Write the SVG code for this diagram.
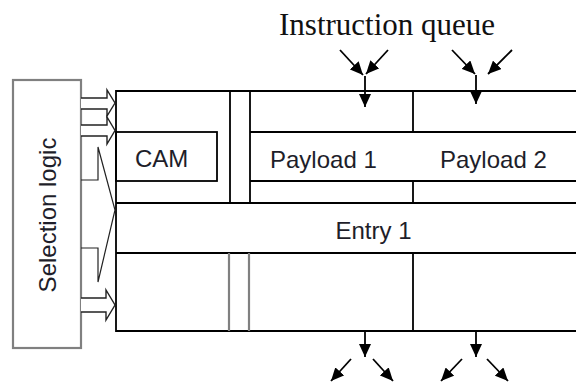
<svg xmlns="http://www.w3.org/2000/svg" width="576" height="382" viewBox="0 0 576 382">
  <style>
    .ln { stroke: #000; stroke-width: 1.8; fill: none; }
    .gr { stroke: #808080; stroke-width: 2.2; fill: none; }
    .blk { stroke: #222; stroke-width: 1.4; fill: #fff; stroke-linejoin: miter; }
    .req { stroke: #222; stroke-width: 1.2; fill: none; }
    .arr { stroke: #000; stroke-width: 1.8; fill: none; marker-end: url(#head); }
    .lbl { font-family: "Liberation Sans", Arial, sans-serif; font-size: 24px; fill: #1e1e2a; }
    .ttl { font-family: "Liberation Serif", "Times New Roman", serif; font-size: 31px; fill: #111; }
  </style>
  <defs>
    <marker id="head" markerUnits="userSpaceOnUse" markerWidth="14" markerHeight="12" refX="13" refY="6" orient="auto">
      <path d="M0,0 L13,6 L0,12 z" fill="#000"/>
    </marker>
  </defs>

  <rect width="576" height="382" fill="#fff"/>

  <!-- selection logic block -->
  <g id="selection-logic">
    <rect x="13" y="80" width="68" height="268" class="gr"/>
    <text class="lbl" transform="translate(56,215) rotate(-90)" text-anchor="middle">Selection logic</text>
  </g>

  <!-- queue storage frame -->
  <g id="queue-frame">
    <path class="ln" d="M576,91 H116 V331 H576"/>
    <path class="ln" d="M116,203 H576 M116,253 H576"/>
    <path class="ln" d="M230,91 V203 M250,91 V203"/>
    <path class="ln" d="M250,132 H576 M250,181 H576"/>
    <path class="ln" d="M413,91 V132 M413,181 V203 M413,253 V331"/>
    <path class="gr" d="M229,253 V331 M249,253 V331"/>
  </g>

  <g id="cam">
    <rect x="116" y="132" width="101" height="49" class="ln"/>
    <text class="lbl" x="135" y="167">CAM</text>
  </g>

  <g id="payload-1">
    <text class="lbl" x="270" y="168">Payload 1</text>
  </g>

  <g id="payload-2">
    <text class="lbl" x="440" y="168">Payload 2</text>
  </g>

  <g id="entry-1">
    <text class="lbl" x="373.5" y="239" text-anchor="middle">Entry 1</text>
  </g>

  <g id="instruction-queue">
    <text class="ttl" x="279" y="35">Instruction queue</text>
  </g>

  <g id="connectors">
    <!-- grant arrows from selection logic -->
    <path class="blk" d="M81,98 H107 V90 L115,103 L107,116 V109 H81"/>
    <path class="blk" d="M81,125 H107 V117 L115,130.5 L107,144 V136 H81"/>
    <path class="blk" d="M81,298 H106 V290 L115,305 L106,320 V312 H81"/>
    <!-- request lines into selection logic -->
    <path class="req" d="M81,180 H98 V147 L115,210 L98,282 V248 H81"/>

    <!-- dispatch into payload columns -->
    <line class="arr" x1="340" y1="50" x2="363" y2="75"/>
    <line class="arr" x1="388" y1="50" x2="366" y2="74"/>
    <line class="arr" x1="365" y1="76" x2="365" y2="107"/>
    <line class="arr" x1="452" y1="50" x2="475" y2="74"/>
    <line class="arr" x1="512" y1="50" x2="488" y2="74"/>
    <line class="arr" x1="476" y1="75" x2="476" y2="104"/>

    <!-- issue out of payload columns -->
    <line class="arr" x1="365" y1="331" x2="365" y2="357"/>
    <line class="arr" x1="351" y1="359" x2="331" y2="381"/>
    <line class="arr" x1="373" y1="359" x2="393" y2="381"/>
    <line class="arr" x1="476" y1="331" x2="476" y2="357"/>
    <line class="arr" x1="462" y1="359" x2="441" y2="381"/>
    <line class="arr" x1="487" y1="359" x2="508" y2="381"/>
  </g>
</svg>
